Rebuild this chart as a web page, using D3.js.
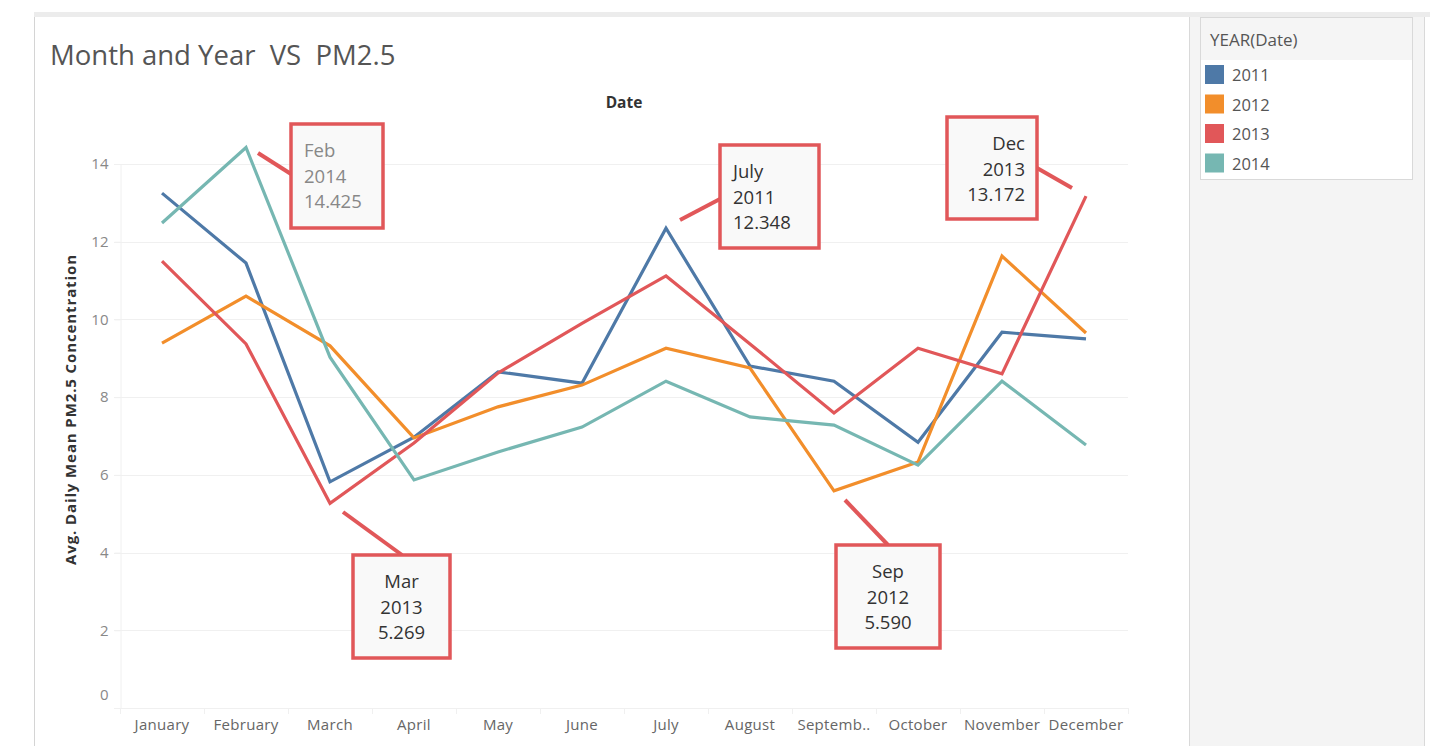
<!DOCTYPE html>
<html>
<head>
<meta charset="utf-8">
<script src="https://cdn.jsdelivr.net/npm/d3@7"></script>
<style>
  body { margin: 0; background: #fff; font-family: "Open Sans", "Noto Sans", sans-serif; }
  svg { display: block; }
</style>
</head>
<body>
<svg id="chart" width="1430" height="746"></svg>
<script>
var months = ["January", "February", "March", "April", "May", "June", "July",
    "August", "Septemb..", "October", "November", "December"];
var years = ["2011", "2012", "2013", "2014"];
var yTicks = [0, 2, 4, 6, 8, 10, 12, 14];

var pm2011 = [13.25, 11.45, 5.82, 6.97, 8.65, 8.36, 12.348, 8.80, 8.41, 6.84, 9.67, 9.50];
var pm2012 = [9.39, 10.60, 9.32, 6.95, 7.75, 8.31, 9.26, 8.75, 5.590, 6.33, 11.63, 9.65];
var pm2013 = [11.50, 9.37, 5.269, 6.82, 8.62, 9.90, 11.12, 9.37, 7.59, 9.26, 8.60, 13.172];
var pm2014 = [12.48, 14.425, 9.03, 5.87, 6.59, 7.23, 8.41, 7.49, 7.28, 6.25, 8.41, 6.77];

var colorScheme = {
    "2011": "#4e79a7",
    "2012": "#f28e2b",
    "2013": "#e15759",
    "2014": "#76b7b2"
};

// annotated points: month index, year, label month, box placement
var notes = [
    {m: 1, year: "2014", label: "Feb", box: [291, 124, 92, 104], align: "start", color: "#888", from: [258, 153], to: [291, 174]},
    {m: 6, year: "2011", label: "July", box: [720, 145, 99, 103], align: "start", color: "#333", from: [680, 220], to: [720, 199]},
    {m: 11, year: "2013", label: "Dec", box: [947, 117, 90, 102], align: "end", color: "#333", from: [1072, 188], to: [1037, 168]},
    {m: 2, year: "2013", label: "Mar", box: [353, 555, 97, 103], align: "middle", color: "#333", from: [343, 512], to: [402, 555]},
    {m: 8, year: "2012", label: "Sep", box: [836, 545, 104, 103], align: "middle", color: "#333", from: [845, 500], to: [888, 545]}
];

(function () {
    'use strict';
    var series = {"2011": pm2011, "2012": pm2012, "2013": pm2013, "2014": pm2014};
    var svg = d3.select("#chart");

    // page frame
    svg.append("rect").attr("x", 0).attr("y", 0).attr("width", 1430).attr("height", 746).attr("fill", "#fff");
    svg.append("rect").attr("x", 34).attr("y", 12).attr("width", 1396).attr("height", 5).attr("fill", "#ececec");
    svg.append("line").attr("x1", 34.5).attr("x2", 34.5).attr("y1", 17).attr("y2", 746).attr("stroke", "#d4d4d4");
    svg.append("rect").attr("x", 1190).attr("y", 17).attr("width", 235).attr("height", 729).attr("fill", "#f4f4f4");
    svg.append("line").attr("x1", 1189.5).attr("x2", 1189.5).attr("y1", 17).attr("y2", 746).attr("stroke", "#d9d9d9");
    svg.append("line").attr("x1", 1424.5).attr("x2", 1424.5).attr("y1", 17).attr("y2", 746).attr("stroke", "#d9d9d9");

    var x = d3.scaleBand().domain(months).range([120, 1128]);
    var y = d3.scaleLinear().domain([0, 14]).range([708, 164]);

    // gridlines
    svg.append("g").selectAll("line").data(yTicks.filter(function (d) { return d > 0; }))
        .enter().append("line")
        .attr("x1", 114).attr("x2", 1128)
        .attr("y1", function (d) { return Math.round(y(d)) + 0.5; })
        .attr("y2", function (d) { return Math.round(y(d)) + 0.5; })
        .attr("stroke", "#f0f0f0");

    // y axis
    var yAxis = svg.append("g").attr("transform", "translate(120.5,0)")
        .call(d3.axisLeft(y).tickValues(yTicks).tickSize(6).tickPadding(6));
    yAxis.select(".domain").attr("stroke", "#f0f0f0");
    yAxis.selectAll(".tick line").attr("stroke", "#f0f0f0");
    yAxis.selectAll(".tick text").attr("fill", "#888").attr("font-size", 15)
        .attr("font-family", "Open Sans")
        .attr("dy", function (d) { return d === 0 ? "-0.55em" : "0.32em"; });

    // x axis
    var xAxis = svg.append("g").attr("transform", "translate(0,708.5)")
        .call(d3.axisBottom(x).tickSize(0).tickPadding(11));
    xAxis.select(".domain").attr("stroke", "#f0f0f0").attr("d", "M114,0H1128");
    xAxis.selectAll(".tick text").attr("fill", "#666").attr("font-size", 15)
        .attr("font-family", "Open Sans").attr("letter-spacing", 0.3);
    svg.append("g").selectAll("line").data(d3.range(13)).enter().append("line")
        .attr("x1", function (i) { return 120.5 + i * x.bandwidth(); })
        .attr("x2", function (i) { return 120.5 + i * x.bandwidth(); })
        .attr("y1", 708).attr("y2", 714).attr("stroke", "#f0f0f0");

    // lines
    var line = d3.line()
        .x(function (d, i) { return x(months[i]) + x.bandwidth() / 2; })
        .y(function (d) { return y(d); });
    years.forEach(function (yr) {
        svg.append("path").datum(series[yr])
            .attr("d", line)
            .attr("fill", "none")
            .attr("stroke", colorScheme[yr])
            .attr("stroke-width", 3.2)
            .attr("stroke-linejoin", "miter");
    });

    // annotations
    notes.forEach(function (n) {
        var g = svg.append("g");
        g.append("line")
            .attr("x1", n.from[0]).attr("y1", n.from[1])
            .attr("x2", n.to[0]).attr("y2", n.to[1])
            .attr("stroke", "#e15759").attr("stroke-width", 4);
        g.append("rect")
            .attr("x", n.box[0]).attr("y", n.box[1])
            .attr("width", n.box[2]).attr("height", n.box[3])
            .attr("fill", "#f9f9f9").attr("stroke", "#e15759").attr("stroke-width", 3.5);
        var tx = n.align === "start" ? n.box[0] + 13 : (n.align === "end" ? n.box[0] + n.box[2] - 12 : n.box[0] + n.box[2] / 2);
        var lines = [n.label, n.year, series[n.year][n.m].toFixed(3)];
        lines.forEach(function (t, i) {
            g.append("text")
                .attr("x", tx).attr("y", n.box[1] + 33 + i * 25.5)
                .attr("text-anchor", n.align)
                .attr("fill", n.color).attr("font-size", 18.5).attr("font-family", "Open Sans")
                .text(t);
        });
    });

    // titles
    svg.append("text").attr("x", 50).attr("y", 65).attr("fill", "#555")
        .attr("font-size", 27.5).attr("font-family", "Open Sans").style("white-space", "pre")
        .text("Month and Year  VS  PM2.5");
    svg.append("text").attr("x", 624).attr("y", 108).attr("text-anchor", "middle")
        .attr("fill", "#333").attr("font-size", 15.5).attr("font-weight", "bold").attr("font-family", "Open Sans")
        .text("Date");
    svg.append("text").attr("transform", "translate(76,410) rotate(-90)").attr("text-anchor", "middle")
        .attr("fill", "#333").attr("font-size", 15).attr("font-weight", "bold").attr("font-family", "Open Sans")
        .attr("textLength", 310).attr("lengthAdjust", "spacing")
        .text("Avg. Daily Mean PM2.5 Concentration");

    // legend
    var lg = svg.append("g");
    lg.append("rect").attr("x", 1200.5).attr("y", 17.5).attr("width", 212).attr("height", 162)
        .attr("fill", "#fff").attr("stroke", "#d9d9d9");
    lg.append("rect").attr("x", 1201).attr("y", 18).attr("width", 211).attr("height", 42).attr("fill", "#f5f5f5");
    lg.append("text").attr("x", 1210).attr("y", 46).attr("fill", "#555").attr("font-size", 17)
        .attr("font-family", "Open Sans").text("YEAR(Date)");
    var item = lg.selectAll(".item").data(years).enter().append("g")
        .attr("transform", function (d, i) { return "translate(1205," + (65 + i * 29.5) + ")"; });
    item.append("rect").attr("width", 19).attr("height", 19)
        .attr("fill", function (d) { return colorScheme[d]; });
    item.append("text").attr("x", 27).attr("y", 16).attr("fill", "#555").attr("font-size", 16.5)
        .attr("font-family", "Open Sans").text(function (d) { return d; });
})();
</script>
</body>
</html>
